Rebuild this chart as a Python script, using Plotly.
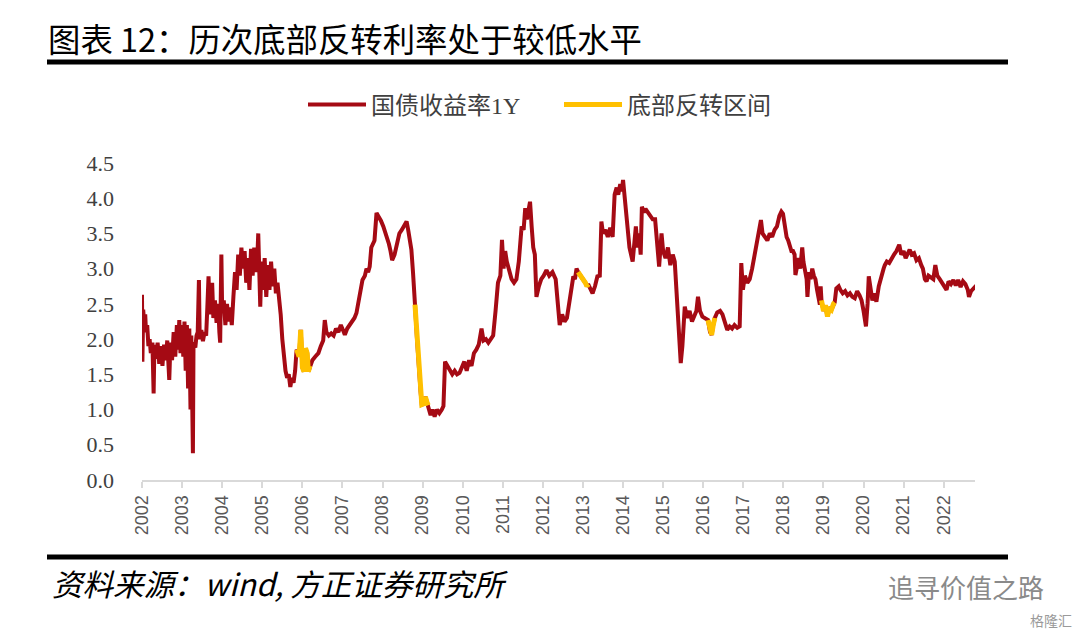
import plotly.graph_objects as go

# ---- data (decimal year, 1Y treasury yield %) ----
dates = [
    2002.00, 2002.01, 2002.03, 2002.05, 2002.08, 2002.10, 2002.13, 2002.16, 2002.19, 2002.22,
    2002.26, 2002.29, 2002.31, 2002.35, 2002.39, 2002.43, 2002.47, 2002.51, 2002.55, 2002.59,
    2002.63, 2002.66, 2002.68, 2002.71, 2002.75, 2002.79, 2002.83, 2002.87, 2002.90, 2002.93,
    2002.96, 2003.00, 2003.03, 2003.06, 2003.09, 2003.12, 2003.15, 2003.18, 2003.21, 2003.23,
    2003.25, 2003.27, 2003.285, 2003.33, 2003.36, 2003.39, 2003.42, 2003.44, 2003.48, 2003.52,
    2003.56, 2003.60, 2003.63, 2003.66, 2003.69, 2003.72, 2003.75, 2003.78, 2003.82, 2003.86,
    2003.90, 2003.93, 2003.95, 2003.98, 2004.00, 2004.04, 2004.08, 2004.12, 2004.16, 2004.20,
    2004.24, 2004.28, 2004.32, 2004.36, 2004.40, 2004.44, 2004.48, 2004.52, 2004.56, 2004.60,
    2004.64, 2004.68, 2004.72, 2004.76, 2004.80, 2004.84, 2004.88, 2004.90, 2004.92, 2004.95,
    2004.98, 2005.02, 2005.06, 2005.10, 2005.14, 2005.18, 2005.22, 2005.26, 2005.30, 2005.34,
    2005.38, 2005.42, 2005.46, 2005.50, 2005.54, 2005.58, 2005.62, 2005.66, 2005.70, 2005.74,
    2005.78, 2005.82, 2005.85, 2005.86, 2005.92, 2005.96, 2006.00, 2006.04, 2006.08, 2006.12,
    2006.15, 2006.19, 2006.25, 2006.32, 2006.40, 2006.46, 2006.52, 2006.56, 2006.60, 2006.66,
    2006.72, 2006.78, 2006.84, 2006.90, 2006.96, 2007.02, 2007.06, 2007.12, 2007.18, 2007.24,
    2007.30, 2007.35, 2007.40, 2007.46, 2007.50, 2007.56, 2007.60, 2007.64, 2007.68, 2007.72,
    2007.76, 2007.80, 2007.85, 2007.90, 2007.96, 2008.02, 2008.08, 2008.12, 2008.16, 2008.20,
    2008.24, 2008.30, 2008.36, 2008.42, 2008.48, 2008.54, 2008.60, 2008.64, 2008.68, 2008.72,
    2008.76, 2008.79, 2008.81, 2008.86, 2008.90, 2008.95, 2008.98, 2009.02, 2009.07, 2009.11,
    2009.14, 2009.20, 2009.25, 2009.30, 2009.36, 2009.42, 2009.48, 2009.52, 2009.56, 2009.62,
    2009.68, 2009.74, 2009.80, 2009.86, 2009.92, 2009.98, 2010.04, 2010.10, 2010.16, 2010.22,
    2010.28, 2010.34, 2010.40, 2010.47, 2010.52, 2010.58, 2010.64, 2010.70, 2010.76, 2010.82,
    2010.88, 2010.94, 2010.98, 2011.02, 2011.06, 2011.10, 2011.16, 2011.22, 2011.28, 2011.34,
    2011.40, 2011.47, 2011.52, 2011.56, 2011.60, 2011.64, 2011.68, 2011.72, 2011.76, 2011.80,
    2011.84, 2011.90, 2011.96, 2012.02, 2012.09, 2012.16, 2012.24, 2012.32, 2012.38, 2012.42,
    2012.48, 2012.54, 2012.60, 2012.66, 2012.72, 2012.76, 2012.80, 2012.84, 2012.88, 2012.95,
    2013.00, 2013.06, 2013.10, 2013.13, 2013.18, 2013.24, 2013.30, 2013.36, 2013.42, 2013.46,
    2013.50, 2013.56, 2013.62, 2013.68, 2013.74, 2013.79, 2013.84, 2013.88, 2013.93, 2013.97,
    2014.00, 2014.04, 2014.08, 2014.12, 2014.16, 2014.20, 2014.24, 2014.28, 2014.32, 2014.36,
    2014.40, 2014.44, 2014.47, 2014.52, 2014.56, 2014.62, 2014.68, 2014.74, 2014.80, 2014.84,
    2014.90, 2014.96, 2015.00, 2015.06, 2015.12, 2015.18, 2015.24, 2015.29, 2015.34, 2015.38,
    2015.42, 2015.44, 2015.48, 2015.54, 2015.60, 2015.66, 2015.72, 2015.78, 2015.83, 2015.87,
    2015.92, 2015.98, 2016.04, 2016.10, 2016.12, 2016.17, 2016.21, 2016.25, 2016.29, 2016.35,
    2016.42, 2016.48, 2016.54, 2016.60, 2016.66, 2016.72, 2016.78, 2016.85, 2016.91, 2016.95,
    2016.99, 2017.04, 2017.10, 2017.16, 2017.22, 2017.28, 2017.34, 2017.38, 2017.44, 2017.48,
    2017.54, 2017.60, 2017.66, 2017.72, 2017.78, 2017.84, 2017.90, 2017.95, 2017.99, 2018.04,
    2018.08, 2018.12, 2018.16, 2018.20, 2018.24, 2018.28, 2018.30, 2018.34, 2018.38, 2018.42,
    2018.47, 2018.50, 2018.54, 2018.58, 2018.60, 2018.64, 2018.68, 2018.72, 2018.76, 2018.80,
    2018.84, 2018.88, 2018.91, 2018.93, 2018.95, 2019.00, 2019.05, 2019.10, 2019.15, 2019.20,
    2019.25, 2019.28, 2019.32, 2019.38, 2019.42, 2019.48, 2019.54, 2019.60, 2019.66, 2019.72,
    2019.78, 2019.84, 2019.90, 2019.95, 2020.00, 2020.04, 2020.06, 2020.10, 2020.13, 2020.18,
    2020.22, 2020.28, 2020.32, 2020.38, 2020.44, 2020.50, 2020.53, 2020.58, 2020.64, 2020.70,
    2020.76, 2020.82, 2020.89, 2020.94, 2021.00, 2021.05, 2021.10, 2021.15, 2021.20, 2021.26,
    2021.32, 2021.38, 2021.44, 2021.48, 2021.53, 2021.57, 2021.62, 2021.68, 2021.74, 2021.79,
    2021.84, 2021.90, 2021.96, 2022.02, 2022.07, 2022.12, 2022.18, 2022.24, 2022.30, 2022.36,
    2022.42, 2022.48, 2022.54, 2022.60, 2022.63, 2022.68, 2022.74, 2022.81,
]

yield_1y = [
    2.63, 1.68, 2.42, 2.25, 2.35, 2.10, 2.20, 1.90, 2.00, 1.80,
    1.95, 1.23, 1.92, 1.72, 1.95, 1.65, 1.90, 1.62, 1.92, 1.70,
    1.98, 1.65, 1.42, 1.95, 1.70, 2.10, 1.75, 2.20, 1.85, 2.27,
    1.80, 2.20, 1.75, 2.25, 1.55, 2.20, 1.30, 2.15, 1.00, 2.05,
    0.70, 0.38, 1.95, 1.88, 2.05, 2.10, 2.84, 2.00, 2.13, 1.97,
    2.10, 2.05, 2.45, 2.89, 2.35, 2.60, 2.80, 2.30, 2.55, 2.23,
    2.50, 2.10, 1.95, 3.20, 2.40, 2.55, 2.20, 2.50, 2.25, 2.45,
    2.20, 2.60, 2.95, 2.70, 3.20, 2.90, 3.30, 3.00, 3.25, 2.80,
    3.15, 2.70, 3.28, 2.90, 3.30, 2.95, 3.20, 3.50, 2.90, 2.46,
    3.10, 2.70, 3.15, 2.60, 3.05, 2.70, 3.10, 2.75, 3.00, 2.65,
    2.80, 2.60, 2.35, 2.00, 1.70, 1.55, 1.45, 1.50, 1.32, 1.45,
    1.38, 1.55, 1.80, 1.85, 1.75, 2.13, 1.60, 1.54, 1.87, 1.80,
    1.54, 1.62, 1.70, 1.75, 1.80, 1.90, 1.98, 2.27, 2.10, 2.05,
    2.08, 2.05, 2.15, 2.10, 2.20, 2.12, 2.06, 2.15, 2.20, 2.25,
    2.30, 2.37, 2.55, 2.75, 2.84, 2.90, 3.00, 2.95, 3.03, 3.30,
    3.35, 3.40, 3.79, 3.75, 3.68, 3.60, 3.50, 3.45, 3.35, 3.25,
    3.12, 3.20, 3.35, 3.50, 3.55, 3.60, 3.67, 3.55, 3.40, 3.27,
    2.95, 2.75, 2.49, 2.00, 1.60, 1.25, 1.07, 1.08, 1.18, 1.10,
    1.06, 0.92, 1.00, 0.90, 1.00, 0.95, 1.00, 1.05, 1.68, 1.62,
    1.55, 1.50, 1.55, 1.50, 1.52, 1.60, 1.68, 1.55, 1.70, 1.62,
    1.80, 1.85, 1.92, 2.15, 1.98, 2.00, 1.95, 2.00, 2.05, 2.40,
    2.80, 2.90, 3.41, 3.00, 3.25, 3.10, 2.95, 2.85, 2.80, 2.85,
    3.10, 3.60, 3.55, 3.86, 3.70, 3.80, 3.95, 3.60, 3.30, 3.20,
    2.60, 2.75, 2.85, 2.90, 2.98, 2.90, 2.95, 2.85, 2.50, 2.20,
    2.35, 2.25, 2.30, 2.55, 2.75, 2.89, 2.85, 3.00, 2.95, 2.90,
    2.85, 2.80, 2.75, 2.78, 2.72, 2.65, 2.75, 2.89, 2.90, 3.67,
    3.50, 3.55, 3.45, 3.58, 3.45, 4.05, 4.15, 4.05, 4.20, 4.10,
    4.26, 4.00, 3.75, 3.55, 3.30, 3.20, 3.10, 3.35, 3.60, 3.30,
    3.50, 3.20, 3.88, 3.80, 3.85, 3.80, 3.75, 3.70, 3.70, 3.40,
    3.03, 3.50, 3.25, 3.15, 3.30, 3.05, 3.20, 3.10, 2.60, 2.10,
    1.70, 1.66, 1.90, 2.46, 2.30, 2.40, 2.25, 2.35, 2.40, 2.60,
    2.40, 2.32, 2.30, 2.27, 2.27, 2.10, 2.06, 2.20, 2.30, 2.38,
    2.40, 2.35, 2.22, 2.13, 2.18, 2.15, 2.20, 2.16, 2.18, 3.08,
    2.70, 2.90, 2.80, 2.85, 3.00, 3.20, 3.35, 3.55, 3.69, 3.50,
    3.45, 3.40, 3.50, 3.45, 3.55, 3.60, 3.75, 3.81, 3.78, 3.60,
    3.45, 3.40, 3.30, 3.25, 3.25, 3.20, 2.91, 3.05, 3.15, 3.00,
    3.30, 3.10, 2.95, 2.85, 2.60, 2.95, 2.85, 3.00, 2.90, 2.85,
    2.70, 2.55, 2.49, 2.75, 2.55, 2.40, 2.48, 2.32, 2.45, 2.42,
    2.50, 2.52, 2.72, 2.75, 2.70, 2.65, 2.68, 2.62, 2.65, 2.60,
    2.58, 2.68, 2.62, 2.55, 2.40, 2.25, 2.18, 2.50, 2.89, 2.70,
    2.55, 2.65, 2.53, 2.75, 2.90, 3.00, 3.05, 3.10, 3.08, 3.15,
    3.20, 3.25, 3.34, 3.20, 3.25, 3.15, 3.20, 3.27, 3.20, 3.22,
    3.12, 3.15, 3.05, 3.00, 2.85, 2.82, 2.90, 2.88, 2.85, 3.05,
    2.90, 2.85, 2.80, 2.76, 2.70, 2.82, 2.78, 2.84, 2.76, 2.84,
    2.74, 2.82, 2.78, 2.70, 2.60, 2.68, 2.72, 2.76,
]

# bottom-reversal periods (start, end) in decimal years
reversal_periods = [
    (2005.86, 2006.19),
    (2008.81, 2009.14),
    (2012.88, 2013.13),
    (2016.12, 2016.29),
    (2018.95, 2019.28),
]

year_ticks = list(range(2002, 2023))
year_labels = [str(y) for y in year_ticks]

series_names = ["国债收益率1Y", "底部反转区间"]
title_text = "图表 12：历次底部反转利率处于较低水平"
source_text = "资料来源：wind, 方正证券研究所"

# ---- build reversal trace from the main series ----
rev_x, rev_y = [], []
for s, e in reversal_periods:
    for t, v in zip(dates, yield_1y):
        if s <= t <= e:
            rev_x.append(t)
            rev_y.append(v)
    rev_x.append(None)
    rev_y.append(None)

RED = "#A50A14"
GOLD = "#FFC000"
SERIF = "Liberation Serif, Noto Sans CJK SC, serif"
CJK = "Noto Sans CJK SC, sans-serif"

fig = go.Figure()
fig.add_trace(go.Scatter(x=dates, y=yield_1y, mode="lines", name=series_names[0],
                         line=dict(color=RED, width=4)))
fig.add_trace(go.Scatter(x=rev_x, y=rev_y, mode="lines", name=series_names[1],
                         line=dict(color=GOLD, width=5), connectgaps=False))

W, H = 1080, 634
L, R, T, B = 142, 975, 163, 480
pw, ph = R - L, B - T


def px(xp):
    return (xp - L) / pw


def py(yp):
    return (B - yp) / ph


fig.update_layout(
    width=W, height=H,
    margin=dict(l=L, r=W - R, t=T, b=H - B),
    paper_bgcolor="white", plot_bgcolor="white",
    showlegend=True,
    legend=dict(orientation="h", x=559 / W, xanchor="center", xref="container",
                y=1 - 105 / H, yanchor="middle", yref="container",
                font=dict(family=SERIF, size=24, color="#404040"),
                itemwidth=58, entrywidth=183, bgcolor="rgba(0,0,0,0)"),
    title=dict(text=title_text, x=48 / W, xanchor="left", xref="container",
               y=1 - 41 / H, yanchor="middle", yref="container",
               font=dict(family=CJK, size=32.4, color="#000000")),
    xaxis=dict(range=[2002, 2022.78], tickmode="array", tickvals=year_ticks,
               ticktext=year_labels, tickangle=-90, showgrid=False, zeroline=False,
               showline=True, linecolor="#d9d9d9", linewidth=2,
               ticks="outside", ticklen=6, tickcolor="#d9d9d9", tickwidth=2,
               tickfont=dict(family="Liberation Sans, Arial, sans-serif", size=18, color="#595959")),
    yaxis=dict(range=[0, 4.5], dtick=0.5, tick0=0, tickformat=".1f",
               showgrid=False, zeroline=False, showline=False, ticks="",
               ticklabelstandoff=27,
               tickfont=dict(family=SERIF, size=22, color="#404040")),
    shapes=[
        dict(type="line", xref="paper", yref="paper", x0=px(47), x1=px(1008),
             y0=py(62), y1=py(62), line=dict(color="black", width=5)),
        dict(type="line", xref="paper", yref="paper", x0=px(47), x1=px(1008),
             y0=py(557), y1=py(557), line=dict(color="black", width=5)),
    ],
    annotations=[
        dict(text=source_text, xref="paper", yref="paper", x=px(50), y=py(583),
             xanchor="left", yanchor="middle", showarrow=False,
             font=dict(family=CJK, size=30.5, color="#000000", style="italic")),
        dict(text="追寻价值之路", xref="paper", yref="paper", x=px(1046), y=py(586),
             xanchor="right", yanchor="middle", showarrow=False,
             font=dict(family=CJK, size=26, color="#8a8a8a")),
        dict(text="格隆汇", xref="paper", yref="paper", x=px(1074), y=py(620),
             xanchor="right", yanchor="middle", showarrow=False,
             font=dict(family=CJK, size=14, color="#9a9a9a")),
    ],
)

fig.write_html("out.html", post_script="document.body.style.margin='0';",
               config={"displayModeBar": False})
